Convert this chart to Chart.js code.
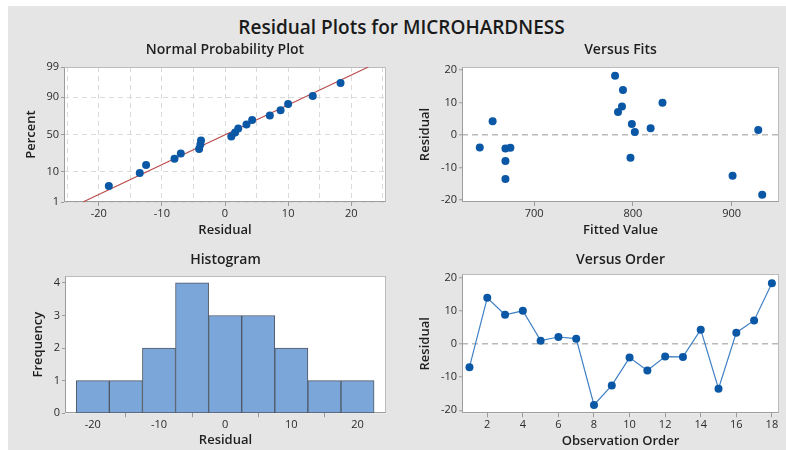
<!DOCTYPE html>
<html>
<head>
<meta charset="utf-8">
<script src="https://cdn.jsdelivr.net/npm/chart.js@4.4.0/dist/chart.umd.min.js"></script>
<style>
  html, body { margin: 0; padding: 0; background: #ffffff; width: 786px; height: 450px; overflow: hidden; }
  #sheet { position: absolute; left: 8px; top: 6px; width: 778px; height: 444px; background: #e5e5e5; }
  #mainTitle { position: absolute; left: 17px; right: 0; top: 14px; line-height: 26px; text-align: center;
               font: 600 19px "Open Sans", sans-serif; color: #1a1a1a; }
  canvas { position: absolute; }
</style>
</head>
<body>
<div id="sheet"></div>
<div id="mainTitle">Residual Plots for MICROHARDNESS</div>
<canvas id="npp" width="385" height="210" style="left:8px;top:36px"></canvas>
<canvas id="fits" width="386" height="210" style="left:400px;top:36px"></canvas>
<canvas id="hist" width="385" height="204" style="left:8px;top:246px"></canvas>
<canvas id="order" width="386" height="204" style="left:400px;top:246px"></canvas>
<script>
// ---- data ----
const observationOrder = [1, 2, 3, 4, 5, 6, 7, 8, 9, 10, 11, 12, 13, 14, 15, 16, 17, 18];
const residuals = [-7.0, 13.9, 8.8, 10.0, 1.0, 2.1, 1.6, -18.4, -12.5, -4.1, -8.0, -3.8, -3.9, 4.3, -13.5, 3.4, 7.1, 18.3];
const fittedValues = [797.6, 790, 789, 830, 802, 818, 927, 931, 901, 671, 671, 645, 676, 658, 671, 799, 785, 782];
// cumulative percent of each sorted residual on the probability plot
const probabilityPct = [3.8, 9.2, 14.7, 20.1, 25.5, 31.0, 36.4, 41.8, 47.3, 52.7, 58.2, 63.6, 69.0, 74.5, 79.9, 85.3, 90.8, 96.2];
// reference line of the normal probability plot (residual at 1% and 99%)
const fitLineResidual = [-22.5, 22.7];
const fitLinePct = [1, 99];
// histogram bins
const histBinCenters = [-20, -15, -10, -5, 0, 5, 10, 15, 20];
const histCounts = [1, 1, 2, 4, 3, 3, 2, 1, 1];
// tick labels
const percentTicks = [1, 10, 50, 90, 99];
const nppGridTicks = [-25, -20, -15, -10, -5, 0, 5, 10, 15, 20, 25];
const residualTicks = [-20, -10, 0, 10, 20];
const fittedTicks = [700, 800, 900];
const frequencyTicks = [0, 1, 2, 3, 4];
const orderTicks = [2, 4, 6, 8, 10, 12, 14, 16, 18];

// ---- styling ----
const FONT = '"Open Sans", sans-serif';
const TXT = '#1f1f1f';
const TICK_TXT = '#2b2b2b';
const AXIS = '#9c9c9c';
const FRAME = '#bcbcbc';
const GRID = '#dadada';
const ZERO = '#b9b9b9';
const BLUE = '#0a57a6';
const LINE_BLUE = '#3f80c6';
const RED = '#b84a48';
const BAR = '#7ba6d9';
const BAR_EDGE = '#4f5866';

// inverse of the standard normal CDF (Acklam's rational approximation)
function probit(p) {
  const a = [-3.969683028665376e+01, 2.209460984245205e+02, -2.759285104469687e+02, 1.383577518672690e+02, -3.066479806614716e+01, 2.506628277459239e+00];
  const b = [-5.447609879822406e+01, 1.615858368580409e+02, -1.556989798598866e+02, 6.680131188771972e+01, -1.328068155288572e+01];
  const c = [-7.784894002430293e-03, -3.223964580411365e-01, -2.400758277161838e+00, -2.549732539343734e+00, 4.374664141464968e+00, 2.938163982698783e+00];
  const d = [7.784695709041462e-03, 3.224671290700398e-01, 2.445134137142996e+00, 3.754408661907416e+00];
  const pl = 0.02425, ph = 1 - pl;
  let q, r;
  if (p < pl) {
    q = Math.sqrt(-2 * Math.log(p));
    return (((((c[0]*q+c[1])*q+c[2])*q+c[3])*q+c[4])*q+c[5]) / ((((d[0]*q+d[1])*q+d[2])*q+d[3])*q+1);
  }
  if (p <= ph) {
    q = p - 0.5; r = q * q;
    return (((((a[0]*r+a[1])*r+a[2])*r+a[3])*r+a[4])*r+a[5])*q / (((((b[0]*r+b[1])*r+b[2])*r+b[3])*r+b[4])*r+1);
  }
  q = Math.sqrt(-2 * Math.log(1 - p));
  return -(((((c[0]*q+c[1])*q+c[2])*q+c[3])*q+c[4])*q+c[5]) / ((((d[0]*q+d[1])*q+d[2])*q+d[3])*q+1);
}

// white plotting area with a grey frame
const framePlugin = {
  id: 'frame',
  beforeDraw(chart) {
    const { ctx, chartArea: a } = chart;
    ctx.save();
    ctx.fillStyle = '#ffffff';
    ctx.fillRect(a.left, a.top, a.right - a.left, a.bottom - a.top);
    ctx.restore();
  },
  beforeDatasetsDraw(chart) {
    const { ctx, chartArea: a } = chart;
    const l = Math.round(a.left) + 0.5, r = Math.round(a.right) - 0.5;
    const t = Math.round(a.top) + 0.5, b = Math.round(a.bottom) - 0.5;
    ctx.save();
    ctx.lineWidth = 1;
    ctx.strokeStyle = FRAME;
    ctx.strokeRect(l, t, r - l, b - t);
    ctx.strokeStyle = AXIS;
    ctx.beginPath();
    ctx.moveTo(l, t); ctx.lineTo(l, b); ctx.lineTo(r, b);
    ctx.stroke();
    ctx.restore();
  }
};

function panelTitle(text, padTop, padBottom) {
  return {
    display: true, text, fullSize: false, color: TXT,
    font: { family: FONT, size: 14, weight: '600', lineHeight: 1.2 },
    padding: { top: padTop, bottom: padBottom }
  };
}
function axisTitle(text, pad) {
  return {
    display: true, text, color: TXT,
    font: { family: FONT, size: 13, weight: '600', lineHeight: 1.2 },
    padding: { top: pad, bottom: pad }
  };
}
const tickFont = { family: FONT, size: 11 };
const fixedTicks = arr => (scale => { scale.ticks = arr.map(v => ({ value: v })); });

function baseOptions(title, rightPad) {
  return {
    responsive: false,
    animation: false,
    events: [],
    layout: { padding: { left: 0, right: rightPad, top: 0, bottom: 0 } },
    plugins: { legend: { display: false }, tooltip: { enabled: false }, title }
  };
}

// ---- Normal Probability Plot ----
const sortedResiduals = residuals.slice().sort((p, q) => p - q);
{
  const opts = baseOptions(panelTitle('Normal Probability Plot', 6.1, 8.1), 7);
  opts.scales = {
    x: {
      type: 'linear', min: -25.5, max: 25.5,
      afterBuildTicks: fixedTicks(nppGridTicks),
      ticks: { font: tickFont, color: TICK_TXT, padding: 1, maxRotation: 0, autoSkip: false,
               callback: v => (v % 10 === 0 ? String(v) : '') },
      grid: { color: GRID, lineWidth: 1, tickLength: 4,
              tickColor: ctx => (ctx.tick && ctx.tick.value % 10 === 0 ? AXIS : 'rgba(0,0,0,0)') },
      border: { display: false, dash: [5, 4] },
      title: axisTitle('Residual', 8.2),
      afterFit: s => { s.height = 44; }
    },
    y: {
      type: 'linear', min: probit(0.01), max: probit(0.99),
      afterBuildTicks: scale => { scale.ticks = percentTicks.map(p => ({ value: probit(p / 100) })); },
      ticks: { font: tickFont, color: TICK_TXT, padding: 2, autoSkip: false,
               callback: (v, i) => String(percentTicks[i]) },
      grid: { color: GRID, lineWidth: 1, tickLength: 3, tickColor: AXIS },
      border: { display: false, dash: [5, 4] },
      title: axisTitle('Percent', 15.9),
      afterFit: s => { s.width = 56; }
    }
  };
  new Chart(document.getElementById('npp'), {
    type: 'scatter',
    data: {
      datasets: [
        {
          type: 'line',
          data: fitLineResidual.map((x, i) => ({ x, y: probit(fitLinePct[i] / 100) })),
          borderColor: RED, borderWidth: 1.1, pointRadius: 0, fill: false, order: 2
        },
        {
          data: sortedResiduals.map((x, i) => ({ x, y: probit(probabilityPct[i] / 100) })),
          backgroundColor: BLUE, borderColor: BLUE, pointRadius: 4, borderWidth: 0, order: 1
        }
      ]
    },
    options: opts,
    plugins: [framePlugin]
  });
}

// ---- Versus Fits ----
{
  const opts = baseOptions(panelTitle('Versus Fits', 6.1, 8.1), 7);
  opts.scales = {
    x: {
      type: 'linear', min: 627, max: 948,
      afterBuildTicks: fixedTicks(fittedTicks),
      ticks: { font: tickFont, color: TICK_TXT, padding: 1, maxRotation: 0, autoSkip: false },
      grid: { drawOnChartArea: false, tickLength: 4, tickColor: AXIS },
      border: { display: false },
      title: axisTitle('Fitted Value', 8.2),
      afterFit: s => { s.height = 44; }
    },
    y: {
      type: 'linear', min: -20.6, max: 21,
      afterBuildTicks: fixedTicks(residualTicks),
      ticks: { font: tickFont, color: TICK_TXT, padding: 2, autoSkip: false },
      grid: { lineWidth: 1.5, tickLength: 3, tickWidth: 1, tickColor: AXIS,
              color: ctx => (ctx.tick && ctx.tick.value === 0 ? ZERO : 'rgba(0,0,0,0)') },
      border: { display: false, dash: [6, 4] },
      title: axisTitle('Residual', 17.2),
      afterFit: s => { s.width = 62; }
    }
  };
  new Chart(document.getElementById('fits'), {
    type: 'scatter',
    data: {
      datasets: [{
        data: fittedValues.map((x, i) => ({ x, y: residuals[i] })),
        backgroundColor: BLUE, borderColor: BLUE, pointRadius: 4, borderWidth: 0
      }]
    },
    options: opts,
    plugins: [framePlugin]
  });
}

// ---- Histogram ----
{
  const opts = baseOptions(panelTitle('Histogram', 5.6, 7.6), 7);
  opts.scales = {
    x: {
      type: 'linear', min: -24.2, max: 24.3, offset: false,
      afterBuildTicks: fixedTicks(residualTicks),
      ticks: { font: tickFont, color: TICK_TXT, padding: 1, maxRotation: 0, autoSkip: false },
      grid: { drawOnChartArea: false, tickLength: 4, tickColor: AXIS },
      border: { display: false },
      title: axisTitle('Residual', 2.2),
      afterFit: s => { s.height = 36.7; }
    },
    y: {
      type: 'linear', min: 0, max: 4.21,
      afterBuildTicks: fixedTicks(frequencyTicks),
      ticks: { font: tickFont, color: TICK_TXT, padding: 2, autoSkip: false },
      grid: { drawOnChartArea: false, tickLength: 3, tickColor: AXIS },
      border: { display: false },
      title: axisTitle('Frequency', 22.5),
      afterFit: s => { s.width = 57; }
    }
  };
  new Chart(document.getElementById('hist'), {
    type: 'bar',
    data: {
      datasets: [{
        data: histBinCenters.map((x, i) => ({ x, y: histCounts[i] })),
        backgroundColor: BAR, borderColor: BAR_EDGE, borderWidth: 1,
        barPercentage: 1, categoryPercentage: 1, borderSkipped: false
      }]
    },
    options: opts,
    plugins: [framePlugin]
  });
}

// ---- Versus Order ----
{
  const opts = baseOptions(panelTitle('Versus Order', 5.6, 5.9), 7);
  opts.scales = {
    x: {
      type: 'linear', min: 0.58, max: 18.4,
      afterBuildTicks: fixedTicks(orderTicks),
      ticks: { font: tickFont, color: TICK_TXT, padding: 1, maxRotation: 0, autoSkip: false },
      grid: { drawOnChartArea: false, tickLength: 4, tickColor: AXIS },
      border: { display: false },
      title: axisTitle('Observation Order', 1.2),
      afterFit: s => { s.height = 36.7; }
    },
    y: {
      type: 'linear', min: -20.9, max: 21,
      afterBuildTicks: fixedTicks(residualTicks),
      ticks: { font: tickFont, color: TICK_TXT, padding: 2, autoSkip: false },
      grid: { lineWidth: 1.5, tickLength: 3, tickWidth: 1, tickColor: AXIS,
              color: ctx => (ctx.tick && ctx.tick.value === 0 ? ZERO : 'rgba(0,0,0,0)') },
      border: { display: false, dash: [6, 4] },
      title: axisTitle('Residual', 17.2),
      afterFit: s => { s.width = 62; }
    }
  };
  new Chart(document.getElementById('order'), {
    type: 'line',
    data: {
      datasets: [{
        data: observationOrder.map((x, i) => ({ x, y: residuals[i] })),
        borderColor: LINE_BLUE, borderWidth: 1.2, tension: 0, fill: false,
        pointRadius: 4, pointBackgroundColor: BLUE, pointBorderColor: BLUE, pointBorderWidth: 0
      }]
    },
    options: opts,
    plugins: [framePlugin]
  });
}
</script>
</body>
</html>
